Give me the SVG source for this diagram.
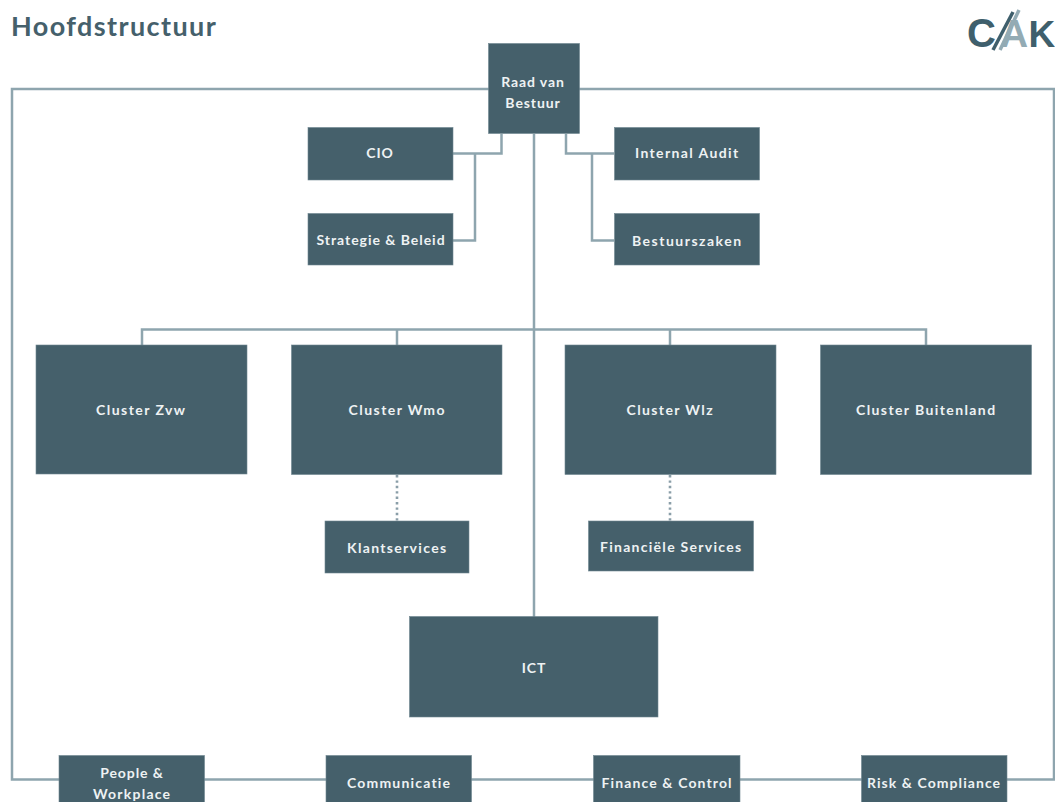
<svg xmlns="http://www.w3.org/2000/svg" width="1055" height="802" viewBox="0 0 1055 802">
<style>
.box{fill:#45606b;stroke:#6f8690;stroke-width:.6}
.lbl{font-family:"Lato","Liberation Sans",sans-serif;font-weight:700;font-size:14px;letter-spacing:.9px;fill:#eef2f3;text-anchor:middle}
.ln{fill:none;stroke:#8ea5ae;stroke-width:2.5}
.dot{fill:none;stroke:#8a9ea8;stroke-width:2.6;stroke-dasharray:2.4 3}
.title{font-family:"Lato","Liberation Sans",sans-serif;font-weight:700;font-size:27px;letter-spacing:1.3px;fill:#45606b}
.logo{font-family:"Liberation Sans",Arial,sans-serif;font-weight:700;fill:#3f5f6c}
</style>
<rect width="1055" height="802" fill="#ffffff"/>
<text class="title" x="11" y="35.5" textLength="206">Hoofdstructuur</text>
<g id="logo">
<text class="logo" x="967" y="46.5" font-size="40">C</text>
<text class="logo" x="1000" y="46.5" font-size="39" style="fill:#93abb4">A</text>
<text class="logo" x="1028.5" y="46.5" font-size="37">K</text>
<line x1="993" y1="50" x2="1013" y2="12" stroke="#3f5f6c" stroke-width="3.5"/>
<line x1="1000" y1="50" x2="1019" y2="10" stroke="#93abb4" stroke-width="3.5"/>
</g>
<g id="connectors">
<path class="ln" d="M489 89H12V779.5H1054V89H579"/>
<path class="ln" d="M534 134V617"/>
<path class="ln" d="M501.5 134V153.5H453M475 153.5V240.5H453"/>
<path class="ln" d="M566 134V153.5H614M592 153.5V240.5H614"/>
<path class="ln" d="M142 345V329.5H926V345M397 329.5V345M670 329.5V345"/>
<path class="dot" d="M397 475V521"/>
<path class="dot" d="M670 475V521"/>
</g>
<g id="raad"><rect class="box" x="488.5" y="43.5" width="91" height="90"/><text class="lbl" x="533" y="86.5">Raad van</text><text class="lbl" x="533" y="107.5">Bestuur</text></g>
<g id="cio"><rect class="box" x="308" y="127.5" width="145" height="52.5"/><text class="lbl" x="380" y="158">CIO</text></g>
<g id="strategie"><rect class="box" x="308" y="213.5" width="145" height="51.5"/><text class="lbl" x="381" y="245" textLength="129">Strategie &amp; Beleid</text></g>
<g id="audit"><rect class="box" x="614.5" y="127.5" width="145" height="52.5"/><text class="lbl" x="687" y="158" textLength="104">Internal Audit</text></g>
<g id="bestuurszaken"><rect class="box" x="614.5" y="213.5" width="145" height="51.5"/><text class="lbl" x="687" y="245.5" textLength="110">Bestuurszaken</text></g>
<g id="zvw"><rect class="box" x="36" y="345" width="211" height="129"/><text class="lbl" x="141" y="415" textLength="90">Cluster Zvw</text></g>
<g id="wmo"><rect class="box" x="291.5" y="345" width="210.5" height="129.5"/><text class="lbl" x="397" y="415" textLength="97">Cluster Wmo</text></g>
<g id="wlz"><rect class="box" x="565" y="345" width="211" height="129.5"/><text class="lbl" x="670" y="415" textLength="87">Cluster Wlz</text></g>
<g id="buitenland"><rect class="box" x="820.5" y="345" width="211" height="129.5"/><text class="lbl" x="926" y="415" textLength="140">Cluster Buitenland</text></g>
<g id="klantservices"><rect class="box" x="325" y="521" width="144" height="52"/><text class="lbl" x="397" y="553" textLength="100">Klantservices</text></g>
<g id="financiele"><rect class="box" x="588.5" y="521" width="165" height="50"/><text class="lbl" x="671" y="552" textLength="142">Financiële Services</text></g>
<g id="ict"><rect class="box" x="409.5" y="616.5" width="248.5" height="100.5"/><text class="lbl" x="534" y="673">ICT</text></g>
<g id="people"><rect class="box" x="59" y="755.5" width="145.5" height="50"/><text class="lbl" x="132" y="777.5">People &amp;</text><text class="lbl" x="132" y="798.5" textLength="78">Workplace</text></g>
<g id="communicatie"><rect class="box" x="326" y="755.5" width="145.5" height="50"/><text class="lbl" x="399" y="788" textLength="104">Communicatie</text></g>
<g id="finance"><rect class="box" x="593.5" y="755.5" width="146.5" height="50"/><text class="lbl" x="667" y="788" textLength="131">Finance &amp; Control</text></g>
<g id="risk"><rect class="box" x="861.5" y="755.5" width="145.5" height="50"/><text class="lbl" x="934" y="788" textLength="134">Risk &amp; Compliance</text></g>
</svg>
